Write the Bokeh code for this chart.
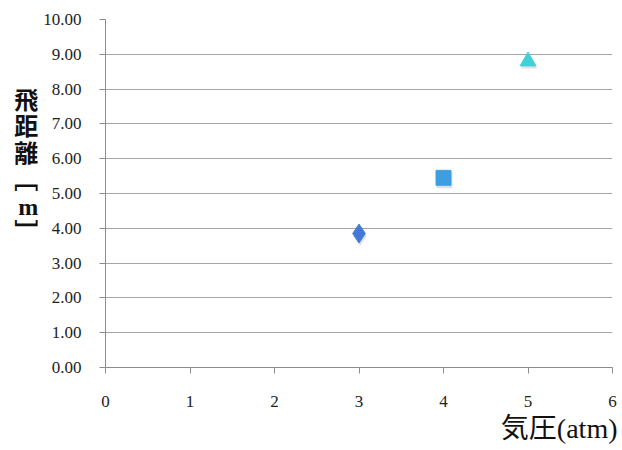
from bokeh.plotting import figure
from bokeh.models import FixedTicker, Range1d, ColumnDataSource, NumeralTickFormatter, Title
from bokeh.transform import dodge
from bokeh.embed import file_html
from bokeh.resources import INLINE

# data
pressure = [3, 4, 5]          # 気圧 (atm)
distance = [3.85, 5.45, 8.8]  # 飛距離 (m)
markers = ["diamond", "square", "triangle"]
colors = ["#4279d8", "#3d9fe0", "#3fd0d8"]
sizes = [19, 15, 16]
x_ticks = [0, 1, 2, 3, 4, 5, 6]
y_ticks = [0, 1, 2, 3, 4, 5, 6, 7, 8, 9, 10]
y_title = "飛\n距\n離\n﹇\nm\n﹈\n \n "
x_title = "気圧(atm)"

mixed = "'Liberation Serif', 'Noto Sans CJK JP'"

p = figure(width=622, height=450, output_backend="svg", toolbar_location=None,
           x_range=Range1d(0, 6), y_range=Range1d(0, 10),
           min_border_left=105, min_border_right=10, min_border_top=19, min_border_bottom=83)
p.outline_line_color = None
p.background_fill_color = "white"

serif = "Liberation Serif"
for ax in (p.xaxis[0], p.yaxis[0]):
    ax.axis_line_color = "#8c8c8c"
    ax.major_tick_line_color = "#8c8c8c"
    ax.minor_tick_line_color = None
    ax.major_tick_in = 0
    ax.major_tick_out = 6
    ax.major_label_text_font = serif
    ax.major_label_text_font_size = "17px"
    ax.major_label_text_color = "#222222"

p.xaxis.ticker = FixedTicker(ticks=x_ticks)
p.yaxis.ticker = FixedTicker(ticks=y_ticks)
p.yaxis.formatter = NumeralTickFormatter(format="0.00")
p.xaxis.major_label_standoff = 22
p.yaxis.major_label_standoff = 18

p.yaxis.axis_label = y_title
p.yaxis.axis_label_orientation = "horizontal"
p.yaxis.axis_label_text_font = mixed
p.yaxis.axis_label_text_font_size = "24px"
p.yaxis.axis_label_text_font_style = "bold"
p.yaxis.axis_label_text_color = "#111111"
p.yaxis.axis_label_text_line_height = 1.02
p.yaxis.axis_label_standoff = 2

p.add_layout(Title(text=x_title, align="right", text_font=mixed,
                   text_font_size="28px", text_font_style="normal",
                   text_color="#111111", offset=-5, standoff=2), "below")

p.xgrid.grid_line_color = None
p.ygrid.grid_line_color = "#a6a6a6"
p.ygrid.grid_line_width = 1

# shadows + markers
for xv, yv, m, c, s in zip(pressure, distance, markers, colors, sizes):
    src = ColumnDataSource(dict(x=[xv], y=[yv]))
    p.scatter(x=dodge("x", 0.012, range=p.x_range), y=dodge("y", -0.07, range=p.y_range),
              source=src, marker=m, size=s + 1, fill_color="#000000",
              fill_alpha=0.12, line_color=None)
    p.scatter("x", "y", source=src, marker=m, size=s, fill_color=c,
              line_color=c, line_alpha=0.9)

open("out.html", "w").write(file_html(p, INLINE))
